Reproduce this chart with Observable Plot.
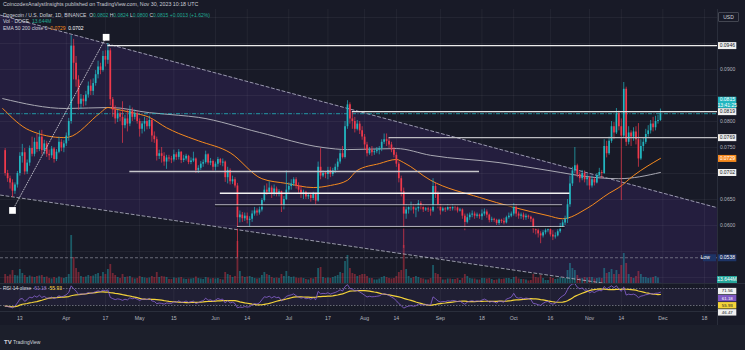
<!DOCTYPE html>
<html><head><meta charset="utf-8">
<script src="https://cdn.jsdelivr.net/npm/d3@7"></script>
<script src="https://cdn.jsdelivr.net/npm/@observablehq/plot@0.6"></script>
<style>
html,body{margin:0;padding:0;background:#181a27;}
#root{position:relative;width:745px;height:350px;overflow:hidden;background:#181a27;font-family:"Liberation Sans",Arial,sans-serif;color:#d1d4dc;}
#root svg{position:absolute;}
.t{position:absolute;white-space:nowrap;line-height:1;font-size:5px;}
</style></head><body><div id="root"></div>
<script>
// ------------------------------------------------------------------ data
const publishedLine = "CoincodexAnalystInsights published on TradingView.com, Nov 30, 2023 10:18 UTC";
const symbolLine = "Dogecoin / U.S. Dollar, 1D, BINANCE";
const firstDay = "2023-03-07";          // first daily candle
const firstOpen = 744;                  // prices in 1e-4 USD
const closes = [
 700,690,682,666,678,700,733,740,703,720,748,737,760,746,770,744,757,737,734,747,727,741,760,749,757,
 772,800,945,912,880,833,843,838,851,868,858,873,890,905,898,925,918,936,842,822,805,815,808,792,805,795,820,808,815,800,
 785,795,800,790,802,772,765,733,738,733,722,730,728,726,736,731,741,725,728,733,721,724,728,706,710,718,721,736,720,723,712,
 718,727,720,722,692,706,684,688,676,615,620,613,618,610,612,622,628,624,630,648,668,664,672,660,670,662,665,636,650,668,
 675,680,688,676,668,660,664,655,658,652,660,647,712,695,700,698,706,698,705,712,722,738,731,790,832,805,800,785,795,782,770,
 755,738,745,740,742,745,748,760,765,762,755,745,735,718,690,665,622,630,635,638,630,632,642,635,630,632,630,628,675,660,640,
 628,632,630,635,632,636,634,628,630,618,606,615,620,622,618,620,617,622,626,620,610,612,610,604,610,608,605,615,618,622,
 638,622,618,620,615,618,616,612,592,590,584,580,586,590,592,582,578,580,588,598,605,612,640,680,705,715,698,690,700,688,692,
 676,688,682,696,702,700,752,738,762,790,778,815,790,772,862,760,778,770,780,765,728,752,760,775,782,795,788,800,802,815];
const highs = [
 748,706,695,688,682,704,740,756,748,726,753,770,768,775,782,783,764,762,745,752,750,746,770,765,763,
 778,806,965,958,925,888,852,850,858,876,880,882,898,916,912,935,936,950,940,846,830,822,818,838,812,822,830,826,822,820,
 805,800,808,806,810,805,780,770,745,750,740,735,735,733,745,740,746,742,735,737,735,730,741,730,715,723,726,743,738,729,726,
 722,731,729,728,724,712,709,695,692,681,628,625,624,624,617,628,635,632,636,652,676,680,684,676,678,674,669,666,656,705,
 682,688,692,692,682,676,668,666,662,662,664,662,722,748,705,704,712,712,710,718,728,745,752,800,840,836,818,808,802,800,790,
 775,760,750,752,746,750,752,765,776,776,768,760,750,740,722,695,672,640,638,645,640,640,648,646,640,635,636,634,690,682,665,
 640,636,635,640,638,640,638,638,633,632,622,622,624,628,626,624,622,630,632,630,622,616,614,612,612,612,614,618,624,626,
 642,640,626,624,624,622,620,618,614,596,594,588,590,594,596,598,590,586,592,604,610,618,650,695,712,750,718,702,706,705,698,
 694,695,692,700,710,706,765,762,770,800,798,825,820,805,875,866,790,782,788,790,796,765,768,785,792,802,808,810,812,824];
const lows = [
 695,683,670,654,660,672,695,720,697,698,714,732,732,740,742,736,736,731,725,729,720,723,738,742,740,
 752,762,795,880,866,822,823,828,830,845,850,850,868,882,890,895,905,910,830,808,795,798,800,758,786,780,790,800,803,795,
 770,776,780,784,785,760,758,724,727,720,714,708,722,719,722,725,726,719,721,724,717,717,721,700,700,706,712,718,716,715,705,
 705,712,715,713,683,680,678,679,672,538,605,606,608,603,598,606,618,618,620,626,645,658,662,652,656,655,655,625,630,648,
 662,668,675,670,662,652,650,650,650,645,648,640,645,688,692,690,688,692,694,700,706,718,728,728,785,795,785,778,782,775,764,
 745,732,735,733,735,738,736,742,756,752,748,740,730,712,682,655,556,612,622,628,622,615,626,630,625,627,625,618,625,652,632,
 620,626,625,628,627,628,628,624,626,612,590,603,610,615,612,614,612,610,618,614,605,606,606,600,600,604,601,603,612,615,
 618,616,612,612,610,610,612,606,585,582,576,565,576,582,586,578,571,574,578,585,595,600,604,635,675,700,692,682,686,682,676,
 668,672,676,680,692,690,698,730,735,758,765,775,782,648,768,752,755,752,762,755,712,725,742,756,770,776,780,782,795,800];
const volumes = [ // millions of DOGE
 900,700,850,1300,800,750,1400,1000,800,600,750,650,600,700,750,800,600,650,500,450,600,500,650,550,500,
 600,900,4800,2600,1500,1100,700,600,650,800,700,750,900,1000,700,1100,900,1400,1900,1000,800,600,500,900,600,650,700,550,450,500,
 700,600,550,500,550,700,600,1100,600,700,650,600,400,400,550,500,550,600,450,400,450,450,500,650,500,450,400,600,550,450,500,
 450,500,400,350,1100,900,800,600,700,4200,1200,700,600,650,700,600,500,450,500,800,1100,900,800,600,500,550,500,900,700,1200,
 700,600,650,550,500,550,500,400,350,500,450,600,1500,1600,600,500,550,500,600,700,800,1100,1000,2200,2800,1500,1000,900,700,800,900,
 900,700,500,500,350,350,450,600,700,600,500,450,500,700,1100,1300,3800,1400,700,500,600,700,600,500,450,350,350,500,1800,1000,900,
 600,350,350,450,450,400,400,500,300,500,900,700,500,450,450,350,350,500,500,450,500,400,300,350,450,400,450,500,500,400,
 600,650,450,400,400,350,250,300,900,600,550,800,500,300,300,600,500,400,450,600,500,500,1300,2000,1500,1300,800,500,500,600,550,
 600,600,450,500,550,500,1500,1000,1100,1400,900,1300,900,1800,3000,2000,900,600,500,700,1200,900,600,600,500,550,600,700,550,13.644];
// EMA lines (date, price ×1e-4)
const ema50Pts = [["2023-03-06",825],["2023-03-17",783],["2023-03-31",769],["2023-04-02",770],["2023-04-15",817],["2023-04-18",827],["2023-04-20",825],["2023-04-28",817],["2023-05-05",808],["2023-05-12",788],["2023-05-17",777],["2023-05-25",763],["2023-06-07",740],["2023-06-20",690],["2023-06-30",681],["2023-07-11",673],["2023-07-18",677],["2023-07-25",687],["2023-07-29",706],["2023-08-07",719],["2023-08-14",727],["2023-08-17",721],["2023-08-28",687],["2023-09-17",654],["2023-10-01",635],["2023-10-15",619],["2023-10-21",613],["2023-10-31",633],["2023-11-09",662],["2023-11-13",673],["2023-11-19",696],["2023-11-30",729]];
const ema200Pts = [["2023-03-06",844],["2023-04-01",825],["2023-04-19",827],["2023-05-05",817],["2023-05-17",812],["2023-05-25",808],["2023-06-19",779],["2023-07-15",750],["2023-07-25",746],["2023-08-14",748],["2023-08-28",735],["2023-09-25",721],["2023-10-15",706],["2023-11-04",692],["2023-11-13",690],["2023-11-30",702]];
// drawings
const wedgeUpper = [["2023-03-05T02:11Z",0.10045],["2023-12-23T08:09Z",0.06341]];
const wedgeLower = [["2023-03-05T02:11Z",0.06585],["2023-12-23T08:09Z",0.04571]];
const rangeLine = [["2023-03-10",0.0629],["2023-04-17T07:00Z",0.0962]];
const levelFrom  = ["2023-04-18","2023-07-27","2023-08-11","2023-04-27","2023-06-03","2023-06-01","2023-06-10"];
const levelTo    = ["2024-01-31","2024-01-31","2024-01-31","2023-09-17","2023-10-24","2023-10-21","2023-10-22"];
const levelPrice = [0.0946,0.0819,0.0769,0.0704,0.0662,0.0640,0.0598];
const levelColor = ["#ececec","#e4e4e4","#bdbdc2","#c8c8cc","#f2f2f2","#d4d4d8","#d4d4d8"];
const levelShadow= [false,false,false,false,false,true,true];
const levelLabel = [true,true,true,false,false,false,false];
const priceTicks = [0.095,0.09,0.085,0.08,0.075,0.07,0.065,0.06,0.055];
const dateTicks = [["2023-03-13","13"],["2023-04-01","Apr"],["2023-04-17","17"],["2023-05-01","May"],["2023-05-15","15"],["2023-06-01","Jun"],["2023-06-14","14"],["2023-07-01","Jul"],["2023-07-17","17"],["2023-08-01","Aug"],["2023-08-14","14"],["2023-09-01","Sep"],["2023-09-18","18"],["2023-10-01","Oct"],["2023-10-16","16"],["2023-11-01","Nov"],["2023-11-14","14"],["2023-12-01","Dec"],["2023-12-18","18"]];
const rsiBands = [70,30];
const rsiSeed = {gain:5, loss:9};
const rsiExtraLabels = [[71.56,"71.56"],[46.47,"46.47"]];
const rsiTickLabel = 80;
const countdown = "13:41:25";

// ------------------------------------------------------------------ build
const N = closes.length;
if ([highs,lows,volumes].some(a=>a.length!==N)) throw new Error("length mismatch "+[N,highs.length,lows.length,volumes.length]);
const DAY = 864e5, t0 = Date.parse(firstDay+"T00:00Z");
const P = v => v*1e-4;
const candles = closes.map((c,i)=>{
  const o = i===0 ? firstOpen : closes[i-1];
  return {date:new Date(t0+i*DAY), open:P(o), close:P(c), high:P(Math.max(highs[i],o,c)), low:P(Math.min(lows[i],o,c)), vol:volumes[i], up:c>=o};
});
const last = candles[N-1];
const UP="#22b6c0", DOWN="#f0394b", ORANGE="#f68a1e", GREY="#a9a9b3", PURPLE="#7e57c2", YELLOW="#f4d33a", TXT="#b2b5be";
const FONT = "Liberation Sans, Arial, sans-serif";
const X0 = new Date("2023-03-05T02:11Z"), X1 = new Date("2023-12-23T08:09Z");
const YDOM = [0.04885, 0.10154];
const W = 717, PH = 274, PT = 9;
const root = document.getElementById("root");
function put(node, left, top){ node.style.left=left+"px"; node.style.top=top+"px"; root.appendChild(node); return node; }
const base = {margin:0, style:{background:"transparent", fontFamily:FONT}};
const xOpt = {type:"utc", domain:[X0,X1], axis:null};
const yOpt = {domain:YDOM, axis:null};
const tickDates = dateTicks.map(d=>new Date(d[0]+"T00:00Z"));
const ema50 = ema50Pts.map(([d,v])=>({date:new Date(d+"T00:00Z"), v:P(v)}));
const ema200 = ema200Pts.map(([d,v])=>({date:new Date(d+"T00:00Z"), v:P(v)}));
const wedge = wedgeUpper.map((u,i)=>({date:new Date(u[0]), hi:u[1], lo:wedgeLower[i][1]}));
const rng = rangeLine.map(([d,v])=>({date:new Date(d.length>10?d:d+"T00:00Z"), v}));
const levels = levelPrice.map((p,i)=>({from:new Date(levelFrom[i]+"T00:00Z"), to:new Date(levelTo[i]+"T00:00Z"), price:p, color:levelColor[i], shadow:levelShadow[i], label:levelLabel[i]}));
const minLow = d3.min(candles, d=>d.low);

// footer band (below date axis)
const foot=document.createElement("div"); foot.style.cssText="position:absolute;left:0;top:325px;width:745px;height:25px;background:#1c1f2b;"; root.appendChild(foot);

// layer 1 : background wedge + grid
put(Plot.plot({...base, width:W, height:PH, x:xOpt, y:yOpt, marks:[
  Plot.areaY(wedge, {x:"date", y1:"lo", y2:"hi", fill:"#241e3e"}),
  Plot.ruleX(tickDates, {stroke:"#ffffff", strokeOpacity:0.05}),
  Plot.ruleY(priceTicks.concat([0.1,0.05]), {stroke:"#ffffff", strokeOpacity:0.05})
]}), 0, PT);

// layer 2 : volume
put(Plot.plot({...base, width:W, height:PH, x:xOpt, y:{domain:[0,6000], range:[PH, PH-60], axis:null}, marks:[
  Plot.ruleX(candles, {x:"date", y1:0, y2:"vol", stroke:d=>d.up?UP:DOWN, strokeOpacity:0.42, strokeWidth:1.8})
]}), 0, PT);

// layer 3 : price series and drawings
put(Plot.plot({...base, width:W, height:PH, x:xOpt, y:yOpt, marks:[
  Plot.ruleY([minLow], {stroke:"#8a8d99", strokeWidth:0.7, strokeDasharray:"3,2"}),
  Plot.line(wedge, {x:"date", y:"hi", stroke:"#b9b9cc", strokeWidth:0.8, strokeDasharray:"3,2.5", clip:true}),
  Plot.line(wedge, {x:"date", y:"lo", stroke:"#b9b9cc", strokeWidth:0.8, strokeDasharray:"3,2.5", clip:true}),
  Plot.line(ema200, {x:"date", y:"v", stroke:GREY, strokeWidth:1, curve:"monotone-x"}),
  Plot.line(ema50, {x:"date", y:"v", stroke:ORANGE, strokeWidth:1, curve:"monotone-x"}),
  Plot.ruleY([last.close], {stroke:UP, strokeWidth:0.8, strokeDasharray:"4,1.5,1,1.5"}),
  Plot.ruleX(candles, {x:"date", y1:"low", y2:"high", stroke:d=>d.up?UP:DOWN, strokeWidth:0.7}),
  Plot.ruleX(candles, {x:"date", y1:"open", y2:"close", stroke:d=>d.up?UP:DOWN, strokeWidth:1.7}),
  Plot.ruleY(levels.filter(d=>d.shadow), {y:"price", x1:"from", x2:"to", stroke:"#0c0c14", strokeWidth:1.3, dy:1.2, clip:true}),
  Plot.ruleY(levels, {y:"price", x1:"from", x2:"to", stroke:"color", strokeWidth:d=>d.shadow?0.8:1.4, clip:true}),
  Plot.line(rng, {x:"date", y:"v", stroke:"#d8d8e0", strokeWidth:0.8, strokeDasharray:"1,1.6"}),
  Plot.dot(rng, {x:"date", y:"v", symbol:"square", r:3.8, fill:"#ffffff", stroke:"none"}),
  Plot.ruleY([minLow], {stroke:"#1d3466", strokeWidth:7, insetLeft:W-14, insetRight:1}),
  Plot.text([minLow], {y:d=>d, frameAnchor:"right", dx:-7.5, text:()=>"Low", fill:"#ffffff", fontSize:5})
]}), 0, PT);

// right price scale (value labels; the last-price label is lifted above the level label it would hide)
const yScale = Plot.scale({y:{domain:YDOM, range:[PH,0]}});
const boxes = [];
levels.filter(d=>d.label).forEach(d=>boxes.push({v:d.price, text:d.price.toFixed(4), bg:"#f0f0f0", fg:"#131722", h:7}));
boxes.push({v:ema50.at(-1).v, text:ema50.at(-1).v.toFixed(4), bg:ORANGE, fg:"#ffffff", h:7});
boxes.push({v:ema200.at(-1).v, text:ema200.at(-1).v.toFixed(4), bg:"#f0f0f0", fg:"#131722", h:7});
boxes.push({v:minLow, text:minLow.toFixed(4), bg:"#1d3466", fg:"#ffffff", h:7});
const lvlNear = levels.find(d=>d.label && Math.abs(yScale.apply(d.price)-yScale.apply(last.close))<8);
const cyTarget = lvlNear ? yScale.apply(lvlNear.price) - 3.5 - 5.8 : yScale.apply(last.close);
boxes.push({v:last.close, text:last.close.toFixed(4)+"\n"+countdown, bg:UP, fg:"#ffffff", h:11.2, pos:yScale.invert(cyTarget)});
boxes.forEach(b=>{ if (b.pos===undefined) b.pos=b.v; });
// tick labels hidden where a value label sits (as on the original scale)
const boxSpans = boxes.map(b=>{ const c=yScale.apply(b.pos); return [c-b.h/2, c+b.h/2]; });
const shownTicks = priceTicks.filter(t=>{ const y=yScale.apply(t); return !boxSpans.some(([a,b])=>y+3>a && y-3<b); });
put(Plot.plot({...base, width:28, height:PH, x:{domain:[0,1], axis:null}, y:yOpt, marks:[
  Plot.text(shownTicks, {x:0.36, y:d=>d, text:d=>d.toFixed(4), fill:TXT, fontSize:5}),
  Plot.ruleY(boxes, {y:"pos", x1:0.01, x2:0.69, stroke:"bg", strokeWidth:"h"}),
  Plot.text(boxes, {x:0.35, y:"pos", text:"text", fill:"fg", fontSize:5, lineHeight:1.08})
]}), W, PT);

// RSI pane
let ag = rsiSeed.gain, al = rsiSeed.loss, prev = firstOpen;
const rsi = closes.map((c,i)=>{ const ch=c-prev; prev=c; ag=(ag*13+Math.max(ch,0))/14; al=(al*13+Math.max(-ch,0))/14; return {date:candles[i].date, v:100-100/(1+ag/al)}; });
rsi.forEach((d,i)=>{ d.ma = d3.mean(rsi.slice(Math.max(0,i-13),i+1), e=>e.v); });
const RT = 283, RH = 28, RDOM = [15.9, 81.8];
put(Plot.plot({...base, width:W, height:RH, x:xOpt, y:{domain:RDOM, axis:null}, marks:[
  Plot.rect([{a:X0,b:X1}], {x1:"a", x2:"b", y1:()=>rsiBands[1], y2:()=>rsiBands[0], fill:PURPLE, fillOpacity:0.09}),
  Plot.ruleX(tickDates, {stroke:"#ffffff", strokeOpacity:0.05}),
  Plot.ruleY(rsiBands, {stroke:"#8a8d99", strokeWidth:0.7, strokeDasharray:"1.5,1.5"}),
  Plot.line(rsi, {x:"date", y:"ma", stroke:YELLOW, strokeWidth:1.2, clip:true}),
  Plot.line(rsi, {x:"date", y:"v", stroke:"#8c64d6", strokeWidth:0.8, clip:true})
]}), 0, RT);
// RSI scale labels, stacked downward below the 80 tick like the original
const rScale = Plot.scale({y:{domain:RDOM, range:[RH,0]}});
const rl = [
  {v:rsiExtraLabels[0][0], text:rsiExtraLabels[0][1], bg:"#f0f0f0", fg:"#131722"},
  {v:rsi.at(-1).v, text:rsi.at(-1).v.toFixed(2), bg:PURPLE, fg:"#ffffff"},
  {v:rsi.at(-1).ma, text:rsi.at(-1).ma.toFixed(2), bg:YELLOW, fg:"#131722"},
  {v:rsiExtraLabels[1][0], text:rsiExtraLabels[1][1], bg:"#f0f0f0", fg:"#131722"}
].sort((a,b)=>b.v-a.v);
const tickY = rScale.apply(rsiTickLabel) - 1.2;
let lastY = tickY + 0.9;
rl.forEach(d=>{ const yy=Math.max(rScale.apply(d.v), lastY+7.1); d.pos=rScale.invert(yy); lastY=yy; });
put(Plot.plot({...base, width:28, height:RH, x:{domain:[0,1], axis:null}, y:{domain:RDOM, axis:null}, style:{background:"transparent", fontFamily:FONT, overflow:"visible"}, marks:[
  Plot.text([rsiTickLabel], {x:0.36, y:d=>d, text:d=>d.toFixed(2), fill:TXT, fontSize:4.4, dy:-1.2}),
  Plot.ruleY(rl, {y:"pos", x1:0.01, x2:0.69, stroke:"bg", strokeWidth:6.4}),
  Plot.text(rl, {x:0.35, y:"pos", text:"text", fill:"fg", fontSize:4.4})
]}), W, RT);

// date axis
put(Plot.plot({...base, width:W, height:14, x:xOpt, y:{axis:null}, marks:[
  Plot.text(dateTicks, {x:d=>new Date(d[0]+"T00:00Z"), text:d=>d[1], fill:TXT, fontSize:5.2})
]}), 0, 311);

// separators
function line(css){ const d=document.createElement("div"); d.style.cssText="position:absolute;background:#2a2e3b;"+css; root.appendChild(d); }
line("left:0;top:283px;width:745px;height:1px;");
line("left:0;top:311px;width:717px;height:1px;");
line("left:717px;top:9px;width:1px;height:316px;");

// text blocks
function txt(html, left, top, extra){ const d=document.createElement("div"); d.className="t"; d.innerHTML=html; d.style.left=left+"px"; d.style.top=top+"px"; if(extra) d.style.cssText+=extra; root.appendChild(d); return d; }
const f4 = v=>v.toFixed(4);
const chg = last.close-last.open;
const g = s=>`<span style="color:#22ab94">${s}</span>`;
txt(publishedLine, 3, 1.5, "color:#c9ccd4;font-size:5.3px;");
txt(`${symbolLine}&nbsp;&nbsp;O${g(f4(last.open))} H${g(f4(last.high))} L${g(f4(last.low))} C${g(f4(last.close))} ${g((chg>=0?"+":"")+f4(chg)+" ("+(chg>=0?"+":"")+(chg/last.open*100).toFixed(2)+"%)")}`, 3, 12.5);
txt(`Vol · DOGE&nbsp;&nbsp;${g(d3.format(".3f")(last.vol)+"M")}`, 3, 19);
txt(`EMA 50 200 close 0&nbsp;&nbsp;<span style="color:${ORANGE}">${f4(ema50.at(-1).v)}</span>&nbsp;&nbsp;<span style="color:#fff">${f4(ema200.at(-1).v)}</span>`, 3, 25.5);
txt(`RSI 14 close&nbsp;&nbsp;<span style="color:#9575cd">${rsi.at(-1).v.toFixed(2)}</span>&nbsp;&nbsp;<span style="color:${YELLOW}">${rsi.at(-1).ma.toFixed(2)}</span>`, 3, 285.5);
txt("USD", 718, 12, "width:19px;height:8px;line-height:8px;text-align:center;border:0.5px solid #434651;border-radius:1px;color:#d1d4dc;");
txt(d3.format(".3f")(last.vol)+"M", 717, 275.5, "width:20px;height:7px;line-height:7px;text-align:center;background:#26a69a;color:#fff;");
txt(`<b style="font-size:6px">TV</b> TradingView`, 4, 338.5, "color:#d1d4dc;");
</script></body></html>
